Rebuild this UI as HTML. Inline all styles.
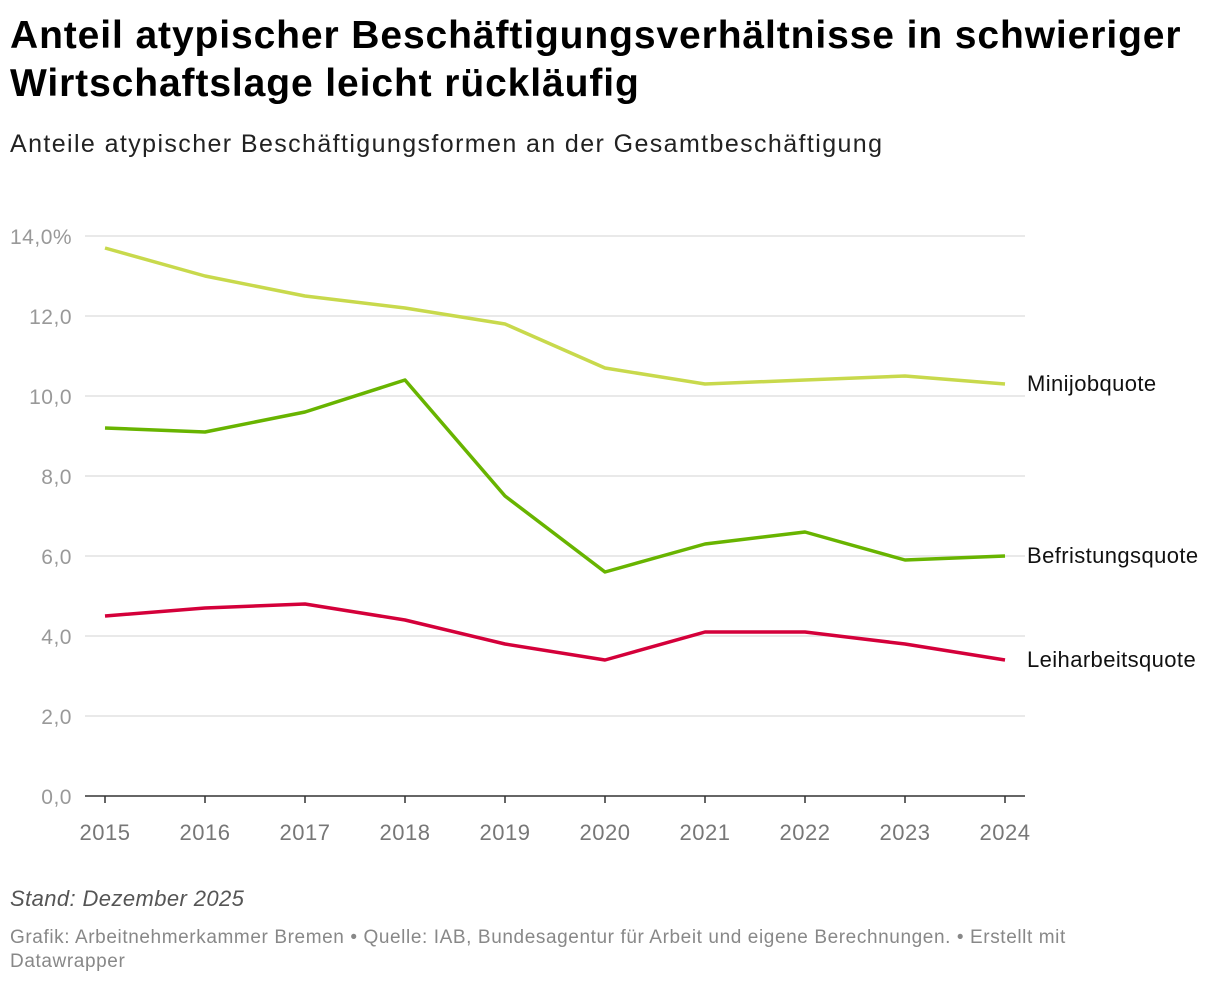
<!DOCTYPE html>
<html><head><meta charset="utf-8"><style>
body{margin:0;background:#fff;font-family:"Liberation Sans",sans-serif;width:1220px;height:986px;overflow:hidden;position:relative}
.t{position:absolute;left:10px;top:12px;font-size:39px;font-weight:bold;line-height:48px;color:#000;letter-spacing:0.9px;width:1210px}
.s{position:absolute;left:10px;top:130px;font-size:25px;color:#222;letter-spacing:1.4px}
.n{position:absolute;left:10px;top:886px;font-size:22px;font-style:italic;color:#555;letter-spacing:0.4px}
.f{position:absolute;left:10px;top:926px;font-size:19px;color:#888;line-height:24px;width:1150px;letter-spacing:0.6px}
</style></head><body>
<div class="t">Anteil atypischer Beschäftigungsverhältnisse in schwieriger Wirtschaftslage leicht rückläufig</div>
<div class="s">Anteile atypischer Beschäftigungsformen an der Gesamtbeschäftigung</div>
<svg id="c" width="1220" height="986" style="position:absolute;left:0;top:0"></svg>
<div class="n">Stand: Dezember 2025</div>
<div class="f">Grafik: Arbeitnehmerkammer Bremen • Quelle: IAB, Bundesagentur für Arbeit und eigene Berechnungen. • Erstellt mit Datawrapper</div>
<script>
const years=[2015,2016,2017,2018,2019,2020,2021,2022,2023,2024];
const minijob=[13.7,13.0,12.5,12.2,11.8,10.7,10.3,10.4,10.5,10.3];
const befristung=[9.2,9.1,9.6,10.4,7.5,5.6,6.3,6.6,5.9,6.0];
const leiharbeit=[4.5,4.7,4.8,4.4,3.8,3.4,4.1,4.1,3.8,3.4];
const yTicks=[0,2,4,6,8,10,12,14];
const yTickLabels=["0,0","2,0","4,0","6,0","8,0","10,0","12,0","14,0%"];
const seriesNames=["Minijobquote","Befristungsquote","Leiharbeitsquote"];
const NS="http://www.w3.org/2000/svg",svg=document.getElementById('c');
const x=i=>105+(i/(years.length-1))*900, y=v=>796-v*40;
function mk(t,a,txt){const e=document.createElementNS(NS,t);for(const k in a)e.setAttribute(k,a[k]);if(txt!=null)e.textContent=txt;svg.appendChild(e);return e;}
yTicks.forEach((v,i)=>{
 if(v>0){const g=mk('line',{x1:85,x2:1025,y1:y(v),y2:y(v),stroke:'#e2e2e2','stroke-width':1.5});
 
 }
 const pct=yTickLabels[i].includes('%');
 const t=mk('text',{x:pct?10:72,y:y(v)+8,'font-size':21,fill:'#999','letter-spacing':0.5,'text-anchor':pct?'start':'end'},yTickLabels[i]);
 
 
});
const ax=mk('line',{x1:85,x2:1025,y1:796,y2:796,stroke:'#333','stroke-width':1.5});


years.forEach((yr,i)=>{
 mk('line',{x1:x(i),x2:x(i),y1:796,y2:803,stroke:'#333','stroke-width':1.5});
 const t=mk('text',{x:x(i),y:840,'font-size':22,fill:'#777','letter-spacing':0.5,'text-anchor':'middle'},yr);
 
 
});
[[minijob,'#c8d94c'],[befristung,'#68b400'],[leiharbeit,'#d4003a']].forEach(([d,c],k)=>{
 const p=mk('polyline',{points:d.map((v,i)=>x(i)+','+y(v)).join(' '),fill:'none',stroke:c,'stroke-width':3.5,'stroke-linejoin':'round'});
 
 
 const t=mk('text',{x:1027,y:y(d[d.length-1])+7,'font-size':22,fill:'#111','letter-spacing':0.4},seriesNames[k]);
 
 
});
</script>
</body></html>
